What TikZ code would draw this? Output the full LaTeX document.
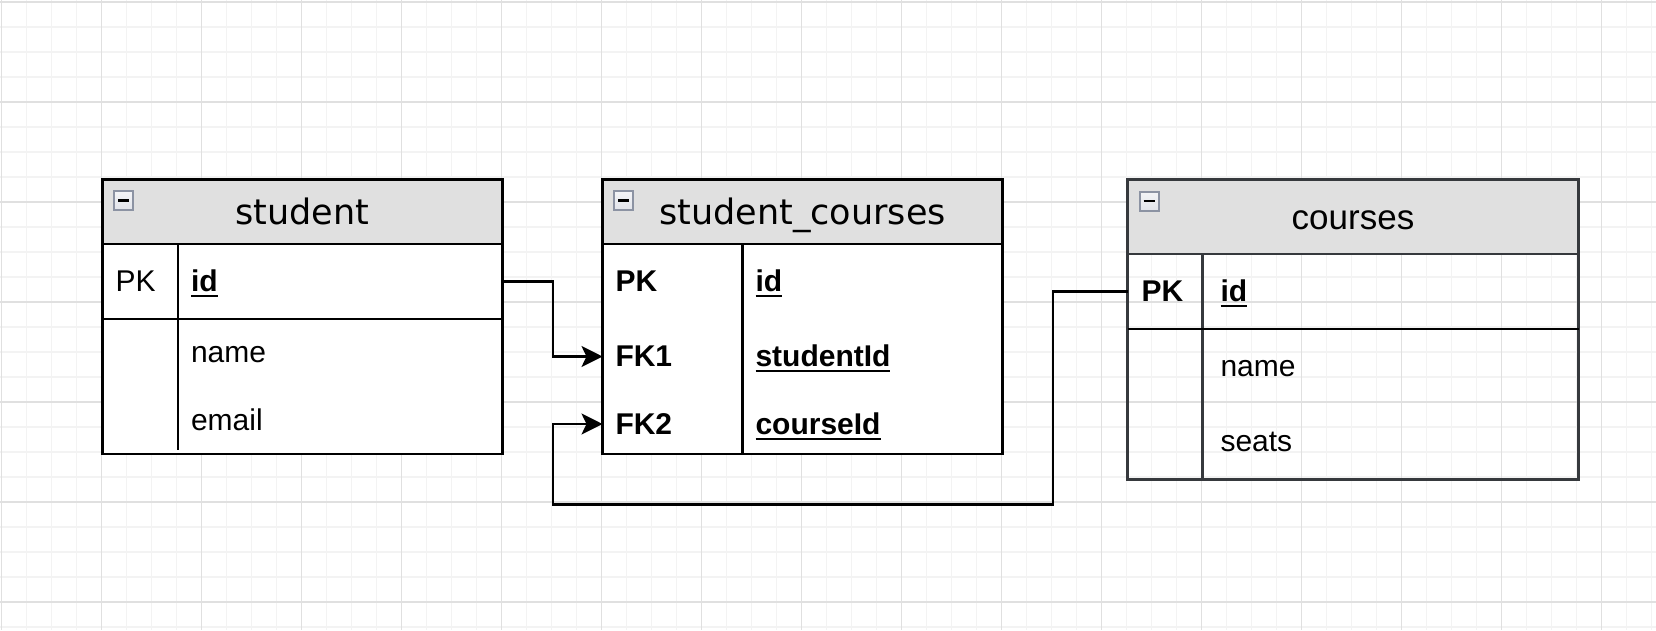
\documentclass[tikz,border=0pt]{standalone}
\usepackage{fontspec}
\setmainfont{Liberation Sans}
\newfontfamily\titlefont{DejaVu Sans}
\usetikzlibrary{positioning}
\usetikzlibrary{arrows.meta}

\definecolor{headfill}{HTML}{E0E0E0}
\definecolor{gridminor}{HTML}{F3F3F3}
\definecolor{gridmajor}{HTML}{E0E0E0}
\definecolor{iconline}{HTML}{8C93A3}
\definecolor{iconfill}{HTML}{E2E4EA}
\definecolor{crsline}{HTML}{36393D}

\newcommand{\keyfield}[1]{\setbox0\hbox{\bfseries #1}\rlap{\rule[-5.5pt]{\wd0}{2pt}}\box0}

\tikzset{
    minorgrid/.style={draw=gridminor, line width=1.5pt},
    majorgrid/.style={draw=gridmajor, line width=1.5pt},
    tablehead/.style={
        draw,
        line width=2.4pt,
        fill=headfill,
        inner sep=0pt,
        outer sep=0pt,
        anchor=north west,
        text height=26pt,
        text depth=0pt,
        font=\titlefont\fontsize{35}{42}\selectfont
    },
    tablebody/.style={
        draw,
        line width=2.4pt,
        fill=white,
        inner sep=0pt,
        outer sep=0pt,
        anchor=north
    },
    collapsebox/.style={
        draw=iconline,
        line width=2pt,
        top color=iconfill!40,
        bottom color=iconfill,
        inner sep=0pt,
        outer sep=0pt,
        minimum size=19pt,
        path picture={
            \draw[black, line width=2.5pt] ([xshift=-5.5pt]path picture bounding box.center)
                -- ([xshift=5.5pt]path picture bounding box.center);
        }
    },
    keycell/.style={
        inner xsep=13pt,
        inner ysep=0pt,
        outer sep=0pt,
        align=left,
        text height=21pt,
        text depth=1pt,
        font=\fontsize{30}{36}\selectfont
    },
    fieldcell/.style={
        keycell
    },
    tableline/.style={line width=2.4pt},
    fklink/.style={
        line width=2.2pt,
        -{Stealth[length=21pt, width=21pt, inset=5pt]}
    }
}

\begin{document}
\begin{tikzpicture}[x=1pt, y=-1pt]
    \useasboundingbox (0,0) rectangle (1656,630);
    \fill[white] (0,0) rectangle (1656,630);

    % grid
    \foreach \gx in {1.5,26.5,...,1656} {\draw[minorgrid] (\gx,0) -- (\gx,630);}
    \foreach \gy in {2,27,...,630} {\draw[minorgrid] (0,\gy) -- (1656,\gy);}
    \foreach \gx in {1.5,101.5,...,1656} {\draw[majorgrid] (\gx,0) -- (\gx,630);}
    \foreach \gy in {2,102,...,630} {\draw[majorgrid] (0,\gy) -- (1656,\gy);}

    % student
    \node[tablehead, minimum width=400pt, minimum height=64.5pt] (stuHead) at (102.5,179.5) {student};
    \node[collapsebox, below right=11.5pt and 11.5pt of stuHead.north west] (stuIcon) {};
    \node[tablebody, minimum width=400pt, minimum height=210pt] (stuBody) at (stuHead.south) {};
    \node[keycell, text width=49.5pt, minimum height=75pt, anchor=north west] (stuPK) at (stuBody.north west) {PK};
    \node[fieldcell, text width=298.5pt, minimum height=75pt, right=0pt of stuPK] (stuId) {\keyfield{id}};
    \node[fieldcell, text width=298.5pt, minimum height=67.5pt, below=0pt of stuId] (stuName) {name};
    \node[fieldcell, text width=298.5pt, minimum height=67.5pt, below=0pt of stuName] (stuEmail) {email};
    \draw[tableline] (stuId.north west) -- ([yshift=4pt]stuEmail.south west);
    \draw[tableline] (stuPK.south west) -- (stuId.south east);

    % student_courses
    \node[tablehead, minimum width=400pt, minimum height=64.5pt] (scHead) at (602.5,179.5) {student\_courses};
    \node[collapsebox, below right=11.5pt and 11.5pt of scHead.north west] (scIcon) {};
    \node[tablebody, minimum width=400pt, minimum height=210pt] (scBody) at (scHead.south) {};
    \node[keycell, text width=114pt, minimum height=75pt, anchor=north west, font=\bfseries\fontsize{30}{36}\selectfont] (scPK) at (scBody.north west) {PK};
    \node[keycell, text width=114pt, minimum height=75pt, below=0pt of scPK, font=\bfseries\fontsize{30}{36}\selectfont] (scFK1) {FK1};
    \node[keycell, text width=114pt, minimum height=60pt, below=0pt of scFK1, font=\bfseries\fontsize{30}{36}\selectfont] (scFK2) {FK2};
    \node[fieldcell, text width=234pt, minimum height=75pt, right=0pt of scPK] (scId) {\keyfield{id}};
    \node[fieldcell, text width=234pt, minimum height=75pt, right=0pt of scFK1] (scStudentId) {\keyfield{studentId}};
    \node[fieldcell, text width=234pt, minimum height=60pt, right=0pt of scFK2] (scCourseId) {\keyfield{courseId}};
    \draw[tableline] (scId.north west) -- (scCourseId.south west);

    % courses
    \node[tablehead, draw=crsline, minimum width=451pt, minimum height=74.5pt, text height=25pt,
        font=\fontsize{35}{42}\selectfont] (crsHead) at (1127.5,179.5) {courses};
    \node[collapsebox, below right=12pt and 12pt of crsHead.north west] (crsIcon) {};
    \node[tablebody, draw=crsline, fill=none, minimum width=451pt, minimum height=225.5pt] (crsBody) at (crsHead.south) {};
    \node[keycell, inner xsep=14pt, text width=47pt, minimum height=75pt, anchor=north west, font=\bfseries\fontsize{30}{36}\selectfont] (crsPK) at (crsBody.north west) {PK};
    \node[fieldcell, inner xsep=18pt, text width=340pt, minimum height=75pt, right=0pt of crsPK] (crsId) {\keyfield{id}};
    \node[fieldcell, inner xsep=18pt, text width=340pt, minimum height=75pt, below=0pt of crsId] (crsName) {name};
    \node[fieldcell, inner xsep=18pt, text width=340pt, minimum height=75.5pt, below=0pt of crsName] (crsSeats) {seats};
    \draw[tableline, crsline] (crsId.north west) -- (crsSeats.south west);
    \draw[tableline] (crsPK.south west) -- (crsId.south east);

    % foreign keys
    \draw[fklink] (stuId.east) -- ++(50.5,0) |- (scFK1.west);
    \draw[fklink] (crsPK.west) -- ++(-74.5,0) -- ++(0,213) -| ([xshift=-49.5pt]scFK2.west) -- (scFK2.west);
\end{tikzpicture}
\end{document}
